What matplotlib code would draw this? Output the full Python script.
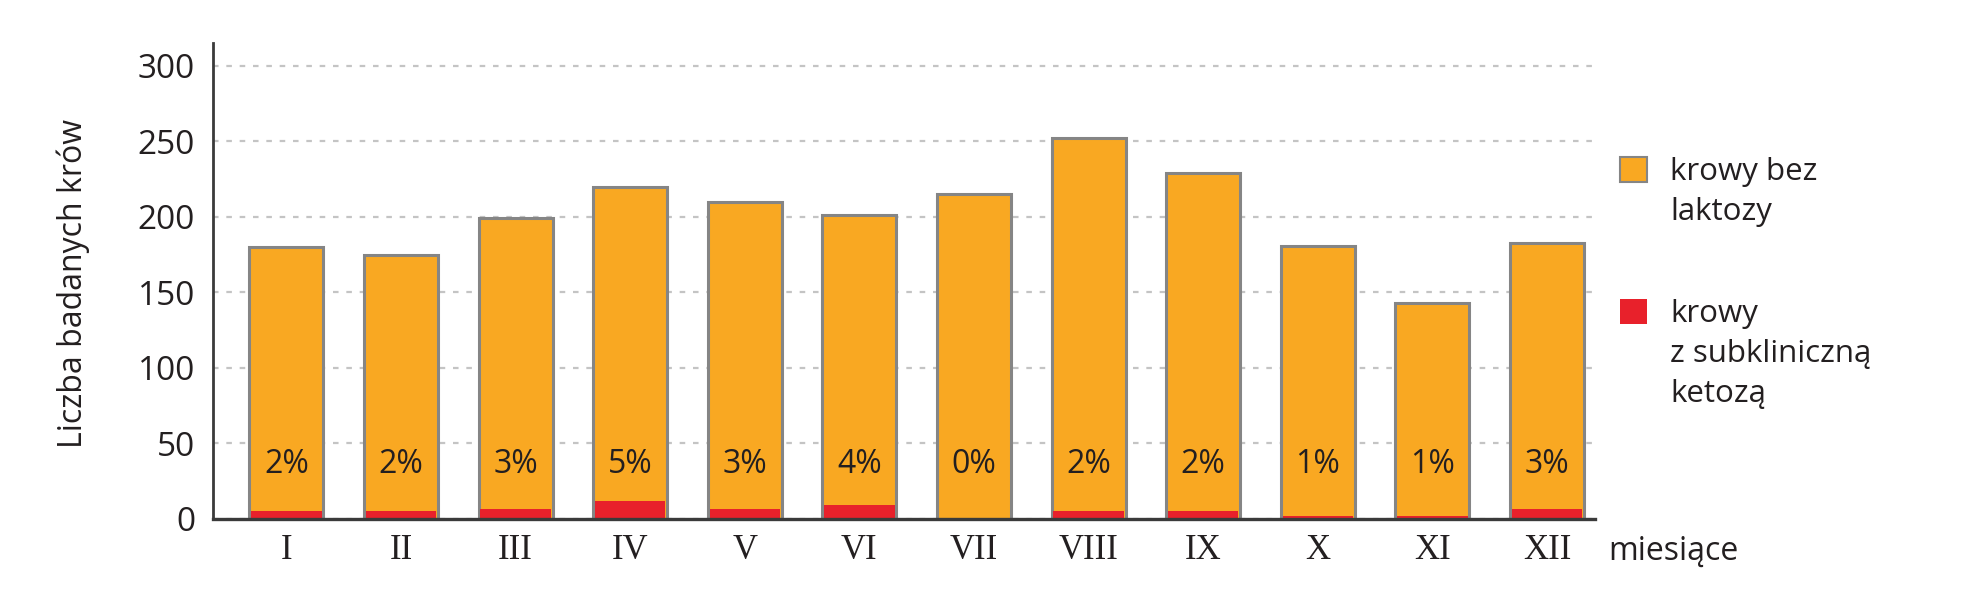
"""
Liczba badanych krów w kolejnych miesiącach - słupki skumulowane
"""

import matplotlib.pyplot as plt
from matplotlib.patches import Rectangle

# ============================================
# DATA
# ============================================
months = ['I', 'II', 'III', 'IV', 'V', 'VI', 'VII', 'VIII', 'IX', 'X', 'XI', 'XII']
ketoza = [5, 5, 6.5, 12, 6.5, 9, 0, 5, 5, 2, 2, 6.5]           # krowy z subkliniczną ketozą
bez_laktozy = [175, 170, 192.5, 208, 203.5, 192, 215, 247, 224, 179, 141, 176.5]
percent_labels = ['2%', '2%', '3%', '5%', '3%', '4%', '0%', '2%', '2%', '1%', '1%', '3%']

ORANGE = '#F9A822'
RED = '#E8212B'
EDGE = '#858585'
TEXT = '#231f20'

plt.rcParams['font.family'] = ['Open Sans', 'DejaVu Sans']

fig = plt.figure(figsize=(19.62, 5.91), dpi=100)
ax = fig.add_axes([0.1086, 0.122, 0.7044, 0.805])

x = list(range(len(months)))
totals = [k + b for k, b in zip(ketoza, bez_laktozy)]

# orange bar = whole stack (outlined), red part drawn over its bottom
ax.bar(x, totals, width=0.645, color=ORANGE, edgecolor=EDGE, linewidth=2.2, zorder=2)
ax.bar(x, ketoza, width=0.615, color=RED, edgecolor='none', linewidth=0, zorder=3)

# percentage labels
for xi, lab in zip(x, percent_labels):
    ax.text(xi, 36, lab, ha='center', va='center', fontsize=23, color=TEXT, zorder=4)

# axes look
ax.set_xlim(-0.64, 11.42)
ax.set_ylim(0, 315)
ax.set_yticks([0, 50, 100, 150, 200, 250, 300])
ax.set_xticks(x)
ax.set_xticklabels(months, fontfamily='Liberation Serif', fontsize=25, color=TEXT)
ax.tick_params(axis='y', length=0, pad=13, labelsize=24, labelcolor=TEXT)
ax.tick_params(axis='x', length=0, pad=11)

ax.yaxis.grid(True, color='#c4c4c4', linewidth=1.6, linestyle=(0, (2.5, 3.5)), zorder=0)
ax.set_axisbelow(True)
for s in ['top', 'right']:
    ax.spines[s].set_visible(False)
ax.spines['left'].set_color('#3a3a3a')
ax.spines['left'].set_linewidth(2)
ax.spines['bottom'].set_color('#3a3a3a')
ax.spines['bottom'].set_linewidth(2.4)
ax.spines['bottom'].set_zorder(5)

ax.set_ylabel('Liczba badanych krów', fontsize=23, color=TEXT)
ax.yaxis.set_label_coords(-0.089, 0.494)

fig.text(1608 / 1962, 1 - 551 / 591, 'miesiące', fontsize=23, color=TEXT,
         ha='left', va='center')

# ============================================
# LEGEND (manual)
# ============================================
W, H = 1962, 591
def legend_item(top_px, color, lines):
    fig.patches.append(Rectangle((1620 / W, 1 - (top_px + 25) / H), 27 / W, 25 / H,
                                 transform=fig.transFigure, facecolor=color,
                                 edgecolor=EDGE if color == ORANGE else 'none',
                                 linewidth=1.5))
    base = top_px + 23
    for i, line in enumerate(lines):
        fig.text(1670 / W, 1 - (base + 40 * i) / H, line, fontsize=22.5, color=TEXT,
                 ha='left', va='baseline')

legend_item(157, ORANGE, ['krowy bez', 'laktozy'])
legend_item(299, RED, ['krowy', 'z subkliniczną', 'ketozą'])

fig.savefig('out.png', dpi=100)
